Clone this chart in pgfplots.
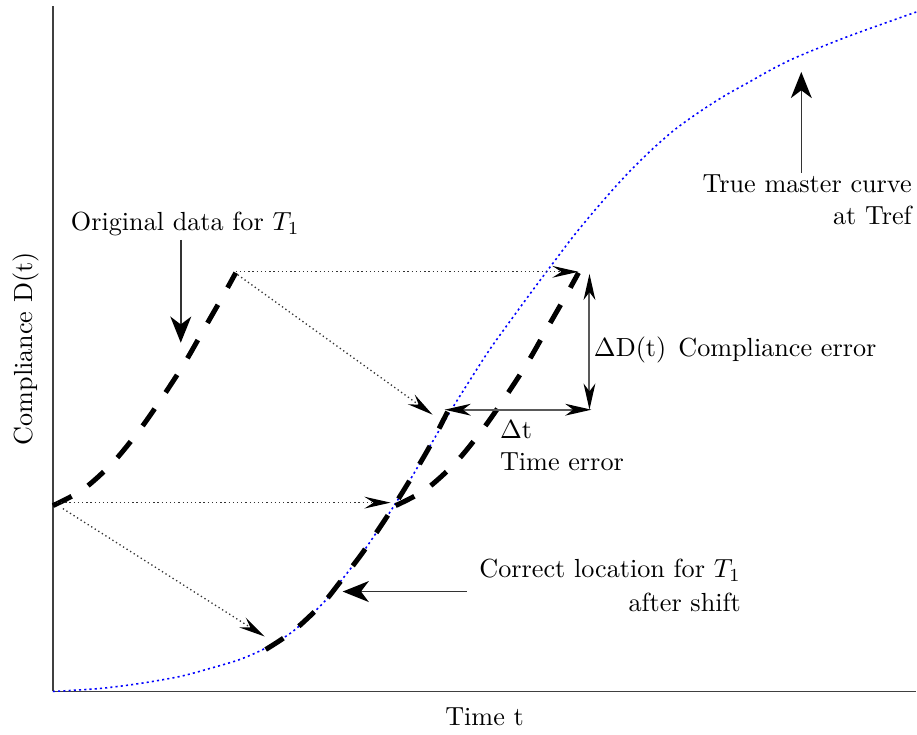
\documentclass[border=0pt]{standalone}
\usepackage{pgfplots}
\pgfplotsset{compat=1.18}
\usetikzlibrary{arrows.meta}

\tikzset{
  bigarrow/.style={black!80, line width=0.6pt, -{Stealth[length=10pt,width=8pt,inset=3pt,color=black]}},
  errarrow/.style={black!65, line width=0.75pt, {Stealth[length=10pt,width=4.5pt,inset=3pt,color=black]}-{Stealth[length=10pt,width=4.5pt,inset=3pt,color=black]}},
  shiftarrow/.style={black!80, line width=0.5pt, dash pattern=on 0.5pt off 1.1pt, -{Stealth[length=10pt,width=4.5pt,inset=3.5pt,color=black]}},
  datacurve/.style={black, line width=1.9pt, dash pattern=on 8pt off 7.5pt, smooth},
  txt/.style={inner sep=0pt, font=\normalsize},
}

\begin{document}
\begin{tikzpicture}
\begin{axis}[
  x=0.38168pt, y=0.38168pt,
  xmin=0, xmax=864, ymin=0, ymax=686,
  axis lines=left,
  axis line style={-, black!75, line width=0.55pt},
  xtick=\empty, ytick=\empty,
  clip=false,
  xlabel={Time t},
  ylabel={Compliance D(t)},
  xlabel style={at={(axis description cs:0.5,0)}, anchor=base, yshift=-12.9pt},
  ylabel style={at={(axis description cs:-0.024,0.5)}, anchor=base},
]

% true master curve at the reference temperature
\addplot[blue, line width=0.6pt, dash pattern=on 0.8pt off 1.2pt, smooth] coordinates {
  (0,0) (47,3) (87,8) (127,15) (157,23) (187,32) (212,43) (240,60) (270,88)
  (287,109) (310,139) (337,179) (357,211) (377,245) (397,279) (417,311)
  (437,342) (460,374) (482,404) (500,428) (522,457) (547,487) (572,515)
  (597,540) (622,562) (647,580) (672,596) (697,610) (722,624) (747,636)
  (797,656) (864,680)
};

% original data for T1
\addplot[datacurve] coordinates {
  (0,186) (30,202) (60,229) (87,262) (110,295) (132,329) (152,364) (172,399) (183,419)
};

% data shifted horizontally only
\addplot[datacurve] coordinates {
  (343,186) (373,202) (403,229) (430,262) (453,295) (475,329) (495,364) (515,399) (526,419)
};

% data at the correct location after shift
\addplot[datacurve] coordinates {
  (213,42) (240,60) (270,88) (287,109) (310,139) (337,179) (357,211) (377,245) (395,280)
};

% shift paths
\addplot[shiftarrow] coordinates {(183,420) (526,420)};
\addplot[shiftarrow] coordinates {(185,417) (380,277)};
\addplot[shiftarrow] coordinates {(4,189) (338,189)};
\addplot[shiftarrow] coordinates {(10,183) (212,55)};

% error arrows
\addplot[errarrow] coordinates {(392,282) (539,282)};
\addplot[errarrow] coordinates {(537,418) (537,282)};

% pointer arrows
\addplot[bigarrow] coordinates {(128,452) (128,349)};
\addplot[bigarrow] coordinates {(749,519) (749,620)};
\addplot[bigarrow] coordinates {(414,100) (290,100)};

% annotations
\node[txt, anchor=base] at (axis cs:132.5,461) {Original data for $T_1$};
\node[txt, anchor=base east] at (axis cs:860,499) {True master curve};
\node[txt, anchor=base east] at (axis cs:860,467) {at Tref};
\node[txt, anchor=base west] at (axis cs:541,335) {$\Delta$D(t)\hspace{4.6pt}Compliance error};
\node[txt, anchor=base west] at (axis cs:447,253) {$\Delta$t};
\node[txt, anchor=base west] at (axis cs:447,221) {Time error};
\node[txt, anchor=base east] at (axis cs:689,114) {Correct location for $T_1$};
\node[txt, anchor=base east] at (axis cs:689,80) {after shift};
\end{axis}
% margins around the axis box
\path (current axis.north west) ++(-20.2pt,2.3pt);
\end{tikzpicture}
\end{document}
